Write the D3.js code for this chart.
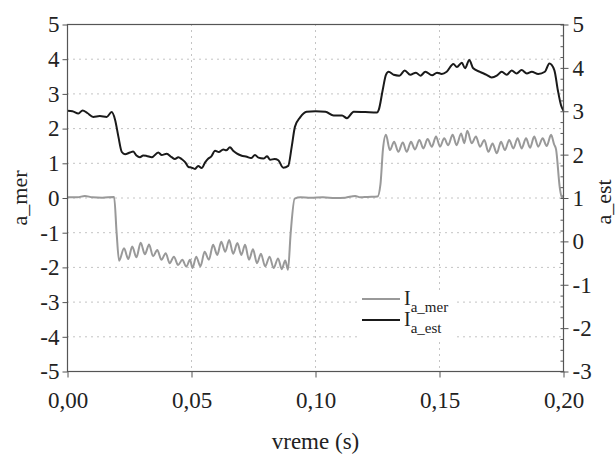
<!DOCTYPE html>
<html>
<head>
<meta charset="utf-8">
<script src="https://cdn.jsdelivr.net/npm/d3@7"></script>
<style>
  body { margin: 0; background: #fff; }
  text { font-family: "Liberation Serif", "Times New Roman", serif; fill: #222; }
</style>
</head>
<body>
<script>
'use strict';
// I_a_mer (left axis)
var merT = [0.000, 0.004, 0.007, 0.010, 0.014, 0.0188, 0.0198, 0.0208,
  0.0228, 0.0245, 0.0261, 0.0278, 0.0295, 0.0312, 0.0329, 0.0345, 0.0362, 0.0379,
  0.0396, 0.0412, 0.0429, 0.0446, 0.0463, 0.0479, 0.0494, 0.0504, 0.0519, 0.0536,
  0.0553, 0.0570, 0.0587, 0.0604, 0.0620, 0.0636, 0.0652, 0.0668, 0.0685, 0.0701,
  0.0716, 0.0732, 0.0748, 0.0764, 0.0780, 0.0797, 0.0815, 0.0831, 0.0849, 0.0864,
  0.0878, 0.0889, 0.0900, 0.0916, 0.094, 0.098, 0.103, 0.108, 0.112, 0.116, 0.118,
  0.121, 0.1250, 0.1262, 0.1272, 0.1284,
  0.1300, 0.1317, 0.1334, 0.1352, 0.1368, 0.1385, 0.1401, 0.1419, 0.1435, 0.1452,
  0.1469, 0.1486, 0.1502, 0.1519, 0.1535, 0.1553, 0.1569, 0.1587, 0.1600, 0.1612,
  0.1630, 0.1647, 0.1663, 0.1681, 0.1697, 0.1714, 0.1731, 0.1748, 0.1764, 0.1781,
  0.1798, 0.1815, 0.1831, 0.1849, 0.1865, 0.1882, 0.1898, 0.1916, 0.1932, 0.1950,
  0.1962, 0.1970, 0.1985, 0.1993, 0.2000];
var merV = [0.02, 0.02, 0.06, 0.02, 0.01, 0.03, -1.0, -1.81,
  -1.45, -1.76, -1.40, -1.71, -1.29, -1.62, -1.34, -1.68, -1.50, -1.78,
  -1.59, -1.88, -1.69, -1.93, -1.78, -1.98, -1.78, -2.02, -1.69, -1.97,
  -1.55, -1.78, -1.35, -1.64, -1.26, -1.55, -1.21, -1.61, -1.30, -1.64,
  -1.35, -1.78, -1.48, -1.88, -1.61, -1.97, -1.69, -2.02, -1.74, -2.05,
  -1.80, -2.07, -1.00, -0.02, 0.02, 0.01, 0.02, 0.00, 0.01, 0.06, 0.02,
  0.03, 0.04, 0.40, 1.40, 1.82,
  1.38, 1.62, 1.33, 1.60, 1.33, 1.62, 1.40, 1.67, 1.43, 1.70,
  1.48, 1.77, 1.48, 1.72, 1.52, 1.82, 1.52, 1.86, 1.58, 1.94,
  1.58, 1.77, 1.48, 1.67, 1.33, 1.57, 1.29, 1.62, 1.38, 1.67,
  1.43, 1.72, 1.43, 1.72, 1.45, 1.77, 1.48, 1.72, 1.50, 1.82,
  1.55, 1.40, 0.30, 0.02, 0.08];

// I_a_est (right axis)
var estT = [0.000, 0.002, 0.0044, 0.0061, 0.008, 0.0104, 0.013, 0.0158, 0.0178, 0.0192,
  0.0205, 0.0219, 0.0232, 0.0252, 0.0265, 0.0278, 0.0292, 0.0305, 0.0319, 0.034,
  0.0366, 0.038, 0.040, 0.042, 0.0433, 0.0447, 0.046, 0.0475, 0.0487, 0.050,
  0.0514, 0.0527, 0.0541, 0.0555, 0.0568, 0.058, 0.0595, 0.061, 0.0628, 0.064,
  0.0655, 0.0668, 0.0682, 0.070, 0.0723, 0.074, 0.0756, 0.077, 0.079, 0.0805,
  0.0817, 0.0835, 0.085, 0.087, 0.089, 0.0904, 0.0917, 0.0938, 0.0964, 0.100,
  0.104, 0.1073, 0.1107, 0.1127, 0.1154, 0.1201, 0.1248, 0.1255, 0.1271, 0.1284,
  0.1295, 0.1315, 0.1338, 0.136, 0.1382, 0.1405, 0.1423, 0.1443, 0.147, 0.149,
  0.1509, 0.1529, 0.1556, 0.157, 0.159, 0.1603, 0.162, 0.1636, 0.1663, 0.169,
  0.171, 0.1731, 0.1751, 0.1771, 0.1791, 0.1811, 0.1831, 0.1852, 0.1872, 0.1898,
  0.1925, 0.1943, 0.1963, 0.1977, 0.199, 0.200];
var estV = [3.01, 3.00, 2.95, 3.02, 2.96, 2.87, 2.89, 2.87, 2.98, 2.80,
  2.42, 2.06, 2.01, 2.05, 2.07, 1.98, 1.94, 1.98, 1.97, 1.94,
  2.05, 1.99, 2.02, 1.94, 1.90, 1.94, 1.90, 1.82, 1.72, 1.70,
  1.67, 1.74, 1.69, 1.82, 1.91, 1.96, 2.09, 2.06, 2.12, 2.10,
  2.17, 2.09, 2.03, 1.98, 1.95, 1.92, 1.99, 1.93, 1.91, 1.96,
  1.88, 1.90, 1.87, 1.70, 1.74, 2.18, 2.64, 2.86, 2.99, 3.00,
  2.99, 2.90, 2.90, 2.84, 2.99, 2.98, 2.97, 3.03, 3.49, 3.84,
  3.91, 3.84, 3.82, 3.94, 3.84, 3.89, 3.82, 3.91, 3.83, 3.89,
  3.86, 3.91, 4.09, 4.02, 4.12, 3.99, 4.18, 3.99, 3.91, 3.84,
  3.78, 3.82, 3.91, 3.84, 3.94, 3.87, 3.95, 3.87, 3.91, 3.86,
  3.91, 4.10, 3.95, 3.49, 3.14, 3.01];

var xTicks = [0, 0.05, 0.10, 0.15, 0.20];
var xTickLabels = ['0,00', '0,05', '0,10', '0,15', '0,20'];
var leftTicks = [-5, -4, -3, -2, -1, 0, 1, 2, 3, 4, 5];
var rightTicks = [-3, -2, -1, 0, 1, 2, 3, 4, 5];

var W = 615, H = 454;
var margin = {left: 67.5, right: 51.5, top: 24.5, bottom: 82.5};
var pw = W - margin.left - margin.right,
    ph = H - margin.top - margin.bottom;

var svg = d3.select('body').append('svg')
    .attr('width', W)
    .attr('height', H);

var g = svg.append('g')
    .attr('transform', 'translate(' + margin.left + ',' + margin.top + ')');

var x  = d3.scaleLinear().domain([0, 0.2]).range([0, pw]);
var yL = d3.scaleLinear().domain([-5, 5]).range([ph, 0]);
var yR = d3.scaleLinear().domain([-3, 5]).range([ph, 0]);

// grid
var grid = g.append('g')
    .attr('stroke', '#888')
    .attr('stroke-width', 1)
    .attr('stroke-dasharray', '1,5');
grid.selectAll('line.h')
    .data(leftTicks.filter(function(d) { return d > -5 && d < 5; }))
    .enter().append('line')
    .attr('x1', 0).attr('x2', pw)
    .attr('y1', function(d) { return yL(d); })
    .attr('y2', function(d) { return yL(d); });
grid.selectAll('line.v')
    .data(xTicks.slice(1, -1))
    .enter().append('line')
    .attr('y1', 0).attr('y2', ph)
    .attr('x1', function(d) { return x(d); })
    .attr('x2', function(d) { return x(d); });

// series
function pts(ts, vs) {
  return ts.map(function(t, i) { return [t, vs[i]]; });
}

var lineL = d3.line()
    .x(function(d) { return x(d[0]); })
    .y(function(d) { return yL(d[1]); })
    .curve(d3.curveMonotoneX);
var lineR = d3.line()
    .x(function(d) { return x(d[0]); })
    .y(function(d) { return yR(d[1]); })
    .curve(d3.curveMonotoneX);

g.append('path')
    .datum(pts(merT, merV))
    .attr('fill', 'none')
    .attr('stroke', '#999')
    .attr('stroke-width', 2)
    .attr('d', lineL);

g.append('path')
    .datum(pts(estT, estV))
    .attr('fill', 'none')
    .attr('stroke', '#1a1a1a')
    .attr('stroke-width', 2)
    .attr('d', lineR);

// axes
var axColor = '#555';
function intLabel(d) { return String(d); }  // plain hyphen, like the original
function styleAxis(sel) {
  sel.select('.domain').remove();
  sel.selectAll('.tick line').attr('stroke', axColor);
  sel.selectAll('.tick text')
      .attr('fill', '#222')
      .style('font-size', '23px')
      .style('font-family', '"Liberation Serif", serif');
}

g.append('g')
    .call(d3.axisLeft(yL).tickValues(leftTicks).tickSize(5).tickPadding(3).tickFormat(intLabel))
    .call(styleAxis);

g.append('g')
    .attr('transform', 'translate(' + pw + ',0)')
    .call(d3.axisRight(yR).tickValues(d3.range(-3, 5.001, 0.25)).tickSize(-3).tickFormat(''))
    .call(styleAxis);

g.append('g')
    .attr('transform', 'translate(' + pw + ',0)')
    .call(d3.axisRight(yR).tickValues(rightTicks).tickSize(5).tickPadding(4).tickFormat(intLabel))
    .call(styleAxis);

g.append('g')
    .attr('transform', 'translate(0,' + ph + ')')
    .call(d3.axisBottom(x).tickValues(xTicks).tickSize(6).tickPadding(14)
      .tickFormat(function(d, i) { return xTickLabels[i]; }))
    .call(styleAxis);

// frame
g.append('rect')
    .attr('width', pw).attr('height', ph)
    .attr('fill', 'none')
    .attr('stroke', axColor)
    .attr('stroke-width', 1.2);

// axis titles
svg.append('text')
    .attr('x', margin.left + pw / 2)
    .attr('y', 449)
    .attr('text-anchor', 'middle')
    .style('font-size', '23px')
    .text('vreme (s)');

svg.append('text')
    .attr('transform', 'translate(27,' + (margin.top + ph / 2) + ') rotate(-90)')
    .attr('text-anchor', 'middle')
    .style('font-size', '22px')
    .text('a_mer');

svg.append('text')
    .attr('transform', 'translate(611,' + (margin.top + ph / 2 + 4) + ') rotate(-90)')
    .attr('text-anchor', 'middle')
    .style('font-size', '22px')
    .text('a_est');

// legend
var legend = svg.append('g').attr('transform', 'translate(358,290)');
legend.append('rect')
    .attr('width', 96).attr('height', 50)
    .attr('fill', '#fff');
var items = [{name: 'a_mer', color: '#999', y: 9},
             {name: 'a_est', color: '#1a1a1a', y: 30}];
items.forEach(function(it) {
  legend.append('line')
      .attr('x1', 4).attr('x2', 42)
      .attr('y1', it.y).attr('y2', it.y)
      .attr('stroke', it.color)
      .attr('stroke-width', 2);
  var t = legend.append('text')
      .attr('x', 46).attr('y', it.y + 6)
      .style('font-size', '20px');
  t.append('tspan').text('I');
  t.append('tspan')
      .attr('dy', 7)
      .style('font-size', '15px')
      .text(it.name);
});
</script>
</body>
</html>
